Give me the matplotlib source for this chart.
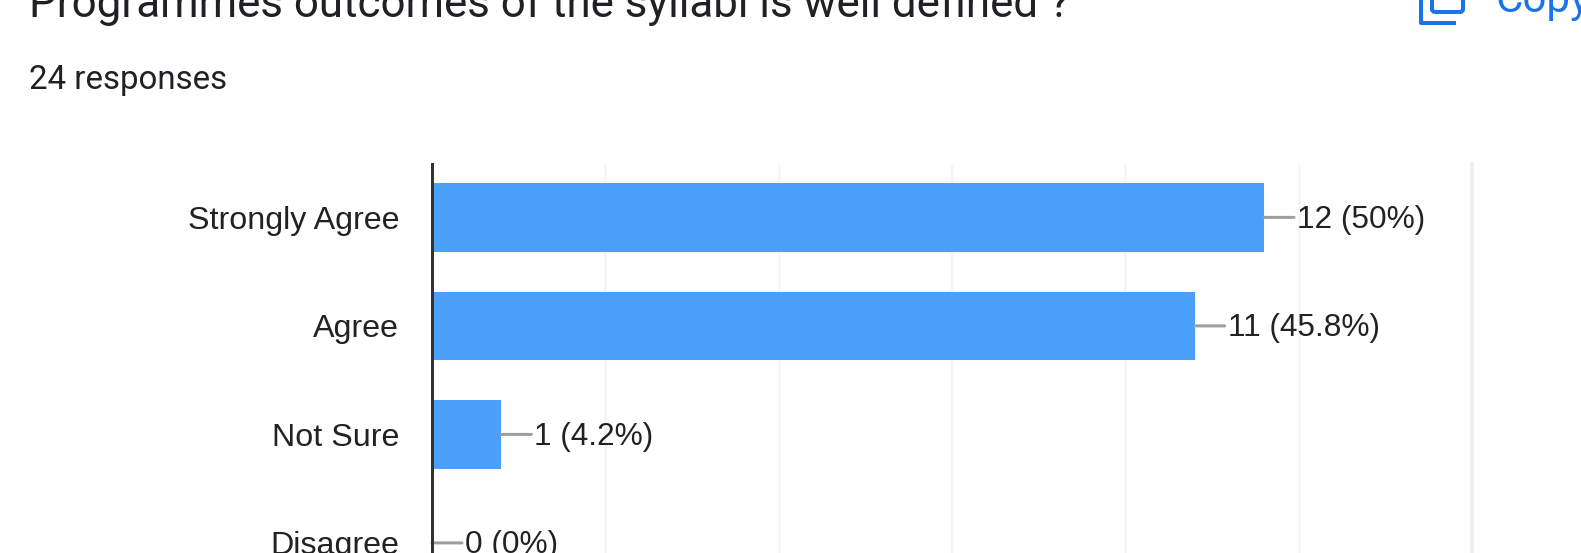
import matplotlib

matplotlib.use("Agg")
import matplotlib.pyplot as plt
from matplotlib.lines import Line2D
from matplotlib.patches import FancyBboxPatch
from matplotlib.transforms import IdentityTransform

categories = ["Strongly Agree", "Agree", "Not Sure", "Disagree"]
counts = [12, 11, 1, 0]
value_labels = ["12 (50%)", "11 (45.8%)", "1 (4.2%)", "0 (0%)"]
grid_ticks = [2.5, 5, 7.5, 10, 12.5, 15]

W, H = 1581, 553
BLUE = "#4a9ff9"
ICON_BLUE = "#1a73e8"
PX = 0.72  # px to pt at dpi 100

fig = plt.figure(figsize=(W / 100, H / 100), dpi=100)
ax = fig.add_axes([432 / W, 0, (1472 - 432) / W, (553 - 164) / H])

ax.barh(range(len(counts)), counts, height=0.63, color=BLUE, zorder=3)
ax.set_xlim(0, 15)
ax.set_ylim(3.093, -0.492)

ax.set_xticks(grid_ticks)
ax.tick_params(axis="x", length=0, labelbottom=False)
ax.grid(axis="x", color="#f6f6f6", lw=3 * PX, zorder=0)
ax.xaxis.get_gridlines()[-1].set_clip_on(False)
ax.xaxis.get_gridlines()[-1].set_linewidth(4 * PX)
ax.xaxis.get_gridlines()[-1].set_color("#eeeeee")

ax.set_yticks(range(len(categories)))
ax.set_yticklabels(categories, family="Liberation Sans", fontsize=32.3 * PX, color="#222222")
ax.tick_params(axis="y", length=0, pad=33 * PX)

for side in ["top", "right", "bottom"]:
    ax.spines[side].set_visible(False)
ax.spines["left"].set_color("#333333")
ax.spines["left"].set_linewidth(3 * PX)
ax.spines["left"].set_zorder(5)

for i, (v, lab) in enumerate(zip(counts, value_labels)):
    # leader line and label are separate so the text baseline can sit on its own
    ax.annotate(
        "",
        xy=(v, i),
        xytext=(30 * PX, 0),
        textcoords="offset points",
        arrowprops=dict(arrowstyle="-", color="#9e9e9e", lw=3 * PX, shrinkA=0, shrinkB=0),
    )
    ax.annotate(
        lab,
        xy=(v, i),
        xytext=(33 * PX, -10.5 * PX),
        textcoords="offset points",
        va="baseline",
        ha="left",
        family="Liberation Sans",
        fontsize=31.7 * PX,
        color="#222222",
        zorder=6,
    )

# header, cut off by the top edge of the screenshot
fig.text(
    29 / W,
    1 - 17 / H,
    "Programmes outcomes of the syllabi is well defined ?",
    family="Roboto",
    fontsize=43.9 * PX,
    color="#202124",
    va="baseline",
)
fig.text(
    29 / W,
    1 - 89.5 / H,
    "24 responses",
    family="Roboto",
    fontsize=33 * PX,
    color="#202124",
    va="baseline",
)
fig.text(
    1495 / W,
    1 - 12 / H,
    "Copy",
    family="Roboto",
    fontsize=42 * PX,
    color=ICON_BLUE,
    va="baseline",
)

# copy icon: a square with an L behind it
fig.add_artist(
    FancyBboxPatch(
        (1432, H - 12),
        31,
        40,
        boxstyle="round,pad=0,rounding_size=3",
        fill=False,
        ec=ICON_BLUE,
        lw=4 * PX,
        transform=IdentityTransform(),
    )
)
fig.add_artist(
    Line2D(
        [1421, 1421, 1454],
        [H, H - 23, H - 23],
        color=ICON_BLUE,
        lw=4 * PX,
        solid_joinstyle="round",
        transform=IdentityTransform(),
    )
)

fig.savefig("out.png", dpi=100)
